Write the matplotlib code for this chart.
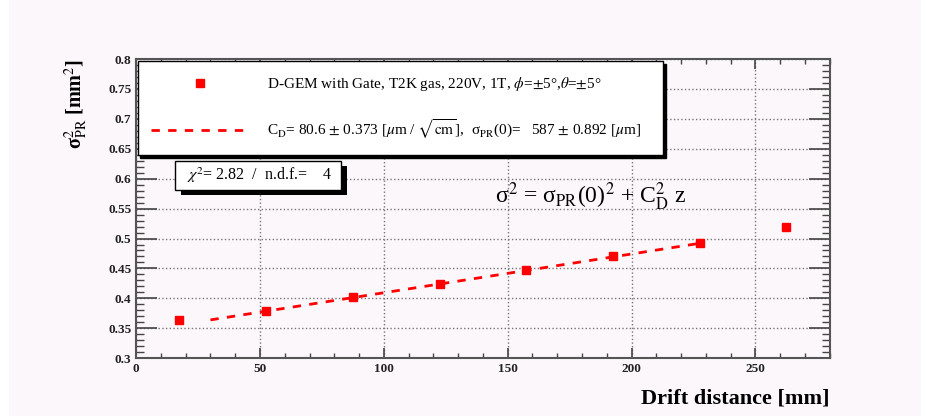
import matplotlib
matplotlib.use("Agg")
import matplotlib.pyplot as plt
import matplotlib.patheffects as pe
from matplotlib.lines import Line2D
from matplotlib.patches import Rectangle

plt.rcParams['font.family'] = 'serif'
plt.rcParams['font.serif'] = ['Liberation Serif', 'DejaVu Serif']
plt.rcParams['mathtext.fontset'] = 'stix'

# measured resolution vs drift distance
drift_mm = [17.5, 52.5, 87.5, 122.5, 157.5, 192.5, 227.5, 262.5]
sigma2_mm2 = [0.364, 0.379, 0.402, 0.424, 0.448, 0.470, 0.492, 0.520]

# linear fit (end points of fitted range)
fit_x = [30.0, 227.5]
fit_y = [0.364, 0.492]

legend_labels = [
    r"D-GEM with Gate, T2K gas, 220V, 1T, $\phi$=$\pm$5°,$\theta$=$\pm$5°",
    r"C$_{\rm D}$= 80.6 $\pm$ 0.373 [$\mu$m / $\sqrt{\rm cm}$],  σ$_{\rm PR}$(0)=   587 $\pm$ 0.892 [$\mu$m]",
]
chi2_text = r"  $\chi^2$= 2.82  /  n.d.f.=    4  "
formula_text = r"σ$^2$ = σ$_{\rm PR}$(0)$^2$ + C$^2_{\rm D}$ z"

bg = '#fbf7fb'
fig = plt.figure(figsize=(9.26, 4.16), dpi=100, facecolor='white')
fig.patches.append(Rectangle((0.01, 0), 0.985, 1, transform=fig.transFigure,
                             facecolor=bg, edgecolor='none', zorder=-10))
ax = fig.add_axes([0.147, 0.139, 0.749, 0.719])
ax.set_facecolor(bg)

ax.plot(fit_x, fit_y, color='red', linestyle=(0, (3, 3)), linewidth=2, zorder=3)
ax.plot(drift_mm, sigma2_mm2, linestyle='none', marker='s', markersize=6,
        color='red', zorder=4)

ax.set_xlim(0, 280)
ax.set_ylim(0.3, 0.8)
ax.set_xticks([0, 50, 100, 150, 200, 250])
ax.set_xticks(range(0, 281, 10), minor=True)
yt = [0.3, 0.35, 0.4, 0.45, 0.5, 0.55, 0.6, 0.65, 0.7, 0.75, 0.8]
ax.set_yticks(yt)
ax.set_yticklabels(['0.3', '0.35', '0.4', '0.45', '0.5', '0.55', '0.6',
                    '0.65', '0.7', '0.75', '0.8'])
ax.set_yticks([0.3 + 0.01 * i for i in range(51)], minor=True)

ax.grid(True, which='major', linestyle=':', color='#777777', linewidth=1)
ax.tick_params(which='both', direction='in', top=True, right=True,
               colors='#444444', labelcolor='#222222', labelsize=9.5)
ax.tick_params(axis='y', which='major', length=15, width=1.2)
ax.tick_params(axis='y', which='minor', length=6, width=1)
ax.tick_params(axis='x', which='major', length=7, width=1.2)
ax.tick_params(axis='x', which='minor', length=3.5, width=1)
for lab in ax.get_xticklabels() + ax.get_yticklabels():
    lab.set_fontweight('bold')
for s in ax.spines.values():
    s.set_linewidth(1.5)
    s.set_color('#555555')

ax.set_xlabel('Drift distance [mm]', loc='right', fontsize=16,
              fontweight='bold', labelpad=10)
ax.set_ylabel(r"σ$^2_{\rm PR}$ [mm$^2$]", loc='top', fontsize=14.5,
              fontweight='bold', labelpad=13)

handles = [
    Line2D([], [], linestyle='none', marker='s', markersize=6, color='red'),
    Line2D([], [], color='red', linestyle=(0, (3, 3)), linewidth=2),
]
leg = ax.legend(handles, legend_labels, loc='upper left',
                bbox_to_anchor=(0.002, 0.993, 0.758, 0.0), mode='expand',
                fontsize=11, frameon=True, fancybox=False, framealpha=1,
                edgecolor='black', facecolor='white', handlelength=6.4,
                handletextpad=1.2, labelspacing=1.6, borderpad=0.9,
                borderaxespad=0, shadow={'color': 'black', 'alpha': 1})
leg.get_frame().set_linewidth(1)
leg.set_zorder(6)

box = dict(boxstyle='square,pad=0.3', facecolor='white', edgecolor='black',
           linewidth=1,
           path_effects=[pe.withSimplePatchShadow(offset=(4, -4),
                                                  shadow_rgbFace='black',
                                                  alpha=1)])
ax.text(0.176, 0.612, chi2_text, transform=ax.transAxes, ha='center',
        va='center', fontsize=11.5, bbox=box, zorder=6)

ax.text(0.656, 0.538, formula_text, transform=ax.transAxes, ha='center',
        va='center', fontsize=17, zorder=6)

fig.savefig('out.png', dpi=100, facecolor=fig.get_facecolor())
